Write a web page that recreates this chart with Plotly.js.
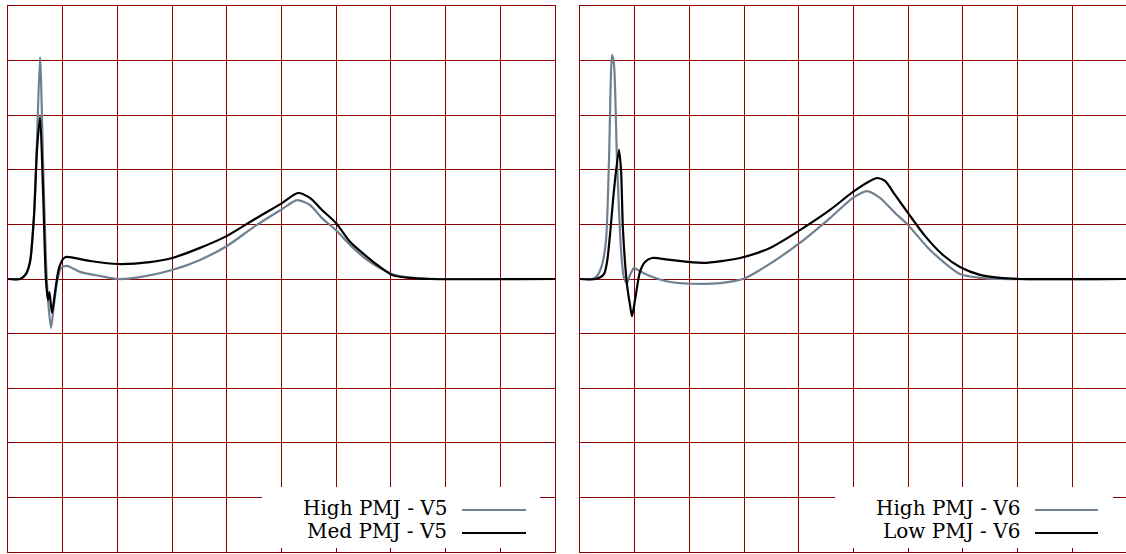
<!DOCTYPE html>
<html>
<head>
<meta charset="utf-8">
<script src="https://cdn.plot.ly/plotly-3.0.1.min.js"></script>
<style>
  html, body { margin: 0; padding: 0; background: #fff; overflow: hidden; }
  #chart { width: 1126px; height: 554px; }
</style>
</head>
<body>
<div id="chart"></div>
<script>
// Lead V5: time (ms) and amplitude (mV)
const v5Time = [0, 11, 15.5, 20.1, 23.8, 26.5, 29.3, 32, 34.7, 36.6, 39.3, 42, 44.8, 48.5, 53.9, 65.8, 84, 100.5, 120.7, 150, 175.5, 200.2, 225.8, 250.5, 264.2, 276, 287, 299.8, 312.6, 328.2, 340, 351, 367.5, 385.7, 413, 500];
const v5High = [0, 0, 0.015, 0.062, 0.234, 0.509, 0.813, 0.436, 0.070, -0.077, -0.179, -0.095, -0.011, 0.040, 0.048, 0.026, 0.011, 0, 0.007, 0.033, 0.070, 0.121, 0.194, 0.256, 0.289, 0.271, 0.223, 0.179, 0.125, 0.070, 0.040, 0.018, 0.005, 0.001, 0, 0];

const v5MedTime = [0, 11, 16.5, 20.1, 23.8, 26.5, 29.3, 32, 34.7, 36.6, 37.9, 40.2, 43, 46.6, 51.2, 53.9, 75, 100.5, 129.8, 150, 175.5, 200.2, 225.8, 250.5, 265, 276, 287, 299.8, 312.6, 328.2, 340, 351, 367.5, 385.7, 500];
const v5Med = [0, 0, 0.018, 0.062, 0.234, 0.473, 0.593, 0.326, -0.004, -0.077, -0.048, -0.125, -0.048, 0.040, 0.077, 0.081, 0.066, 0.055, 0.062, 0.077, 0.114, 0.158, 0.220, 0.278, 0.315, 0.297, 0.253, 0.205, 0.136, 0.081, 0.044, 0.015, 0.004, 0, 0];

// Lead V6
const v6HighTime = [0, 11, 15.5, 20.1, 23.8, 26.5, 29.3, 31.1, 33.8, 37.5, 40.2, 43, 45.7, 49.4, 53, 64, 82.3, 112.4, 128, 149, 164.5, 201, 228.5, 249.5, 262.3, 274.2, 288, 299.8, 320, 347.3, 365.6, 384, 500];
const v6High = [0, 0, 0.011, 0.051, 0.143, 0.436, 0.821, 0.784, 0.436, 0.106, 0.004, -0.015, 0.015, 0.040, 0.033, 0.011, -0.011, -0.018, -0.015, 0, 0.033, 0.132, 0.223, 0.297, 0.322, 0.297, 0.242, 0.198, 0.106, 0.018, 0.004, 0, 0];

const v6LowTime = [0, 14.6, 21.9, 24.7, 27.4, 31.1, 35.6, 37.5, 39.3, 43, 45.7, 47.5, 50.3, 54.8, 59.4, 65.8, 82.3, 112.4, 146.2, 173.7, 201, 228.5, 249.5, 265, 271.5, 278.8, 288, 299.8, 315.3, 331.8, 347.3, 365.6, 384, 402, 500];
const v6Low = [0, 0, 0.018, 0.062, 0.161, 0.326, 0.473, 0.399, 0.179, -0.022, -0.095, -0.136, -0.077, 0.026, 0.062, 0.077, 0.070, 0.059, 0.077, 0.114, 0.179, 0.253, 0.319, 0.359, 0.370, 0.359, 0.308, 0.242, 0.158, 0.088, 0.044, 0.015, 0.004, 0, 0];

const legendLeft = ['High PMJ - V5', 'Med PMJ - V5'];
const legendRight = ['High PMJ - V6', 'Low PMJ - V6'];

const GRAY = '#708090';
const INK = '#000000';
const GRID = '#8b0000';
const W = 1126, H = 554;

function trace(x, y, color, xa, ya, name) {
  return {x, y, xaxis: xa, yaxis: ya, mode: 'lines', name,
          line: {color, width: 2.2, shape: 'spline', smoothing: 0.7}};
}

const traces = [
  trace(v5Time, v5High, GRAY, 'x', 'y', legendLeft[0]),
  trace(v5MedTime, v5Med, INK, 'x', 'y', legendLeft[1]),
  trace(v6HighTime, v6High, GRAY, 'x2', 'y2', legendRight[0]),
  trace(v6LowTime, v6Low, INK, 'x2', 'y2', legendRight[1])
];

function axis(extra) {
  return Object.assign({
    showticklabels: false, ticks: '', zeroline: false,
    showgrid: true, gridcolor: GRID, gridwidth: 1,
    showline: true, linecolor: GRID, linewidth: 1.2, mirror: true,
    fixedrange: true
  }, extra);
}

const yDomain = [1 - 552 / H, 1 - 6 / H];

// Legend block (text left, line sample right) drawn over a white patch
function legendBlock(boxL, boxR, textR, lineL, lineR, labels) {
  const shapes = [
    {type: 'rect', xref: 'paper', yref: 'paper', layer: 'above',
     x0: boxL / W, x1: boxR / W, y0: 1 - 548 / H, y1: 1 - 487 / H,
     fillcolor: '#ffffff', line: {width: 0}},
    {type: 'line', xref: 'paper', yref: 'paper', layer: 'above',
     x0: lineL / W, x1: lineR / W, y0: 1 - 510 / H, y1: 1 - 510 / H,
     line: {color: GRAY, width: 2.2}},
    {type: 'line', xref: 'paper', yref: 'paper', layer: 'above',
     x0: lineL / W, x1: lineR / W, y0: 1 - 533 / H, y1: 1 - 533 / H,
     line: {color: INK, width: 2.2}}
  ];
  const anns = labels.map((t, i) => ({
    text: t, xref: 'paper', yref: 'paper', showarrow: false,
    x: textR / W, xanchor: 'right', y: 1 - (i === 0 ? 508 : 531) / H, yanchor: 'middle',
    font: {family: 'DejaVu Serif, serif', size: 20, color: '#000'}
  }));
  return {shapes, anns};
}

const lgL = legendBlock(262, 540, 449, 462, 526, legendLeft);
const lgR = legendBlock(835, 1113, 1022, 1035, 1098, legendRight);

const layout = {
  width: W, height: H,
  margin: {l: 0, r: 0, t: 0, b: 0},
  paper_bgcolor: '#ffffff', plot_bgcolor: '#ffffff',
  showlegend: false,
  xaxis: axis({domain: [8 / W, 555 / W], range: [0, 500], dtick: 50, tick0: 0}),
  yaxis: axis({domain: yDomain, range: [-1, 1], dtick: 0.2, tick0: 0}),
  xaxis2: axis({domain: [580 / W, 1], range: [0, 500 * 546 / 547], dtick: 50, tick0: 0, anchor: 'y2'}),
  yaxis2: axis({domain: yDomain, range: [-1, 1], dtick: 0.2, tick0: 0, anchor: 'x2'}),
  shapes: lgL.shapes.concat(lgR.shapes),
  annotations: lgL.anns.concat(lgR.anns)
};

Plotly.newPlot('chart', traces, layout, {displayModeBar: false, staticPlot: true});
</script>
</body>
</html>
